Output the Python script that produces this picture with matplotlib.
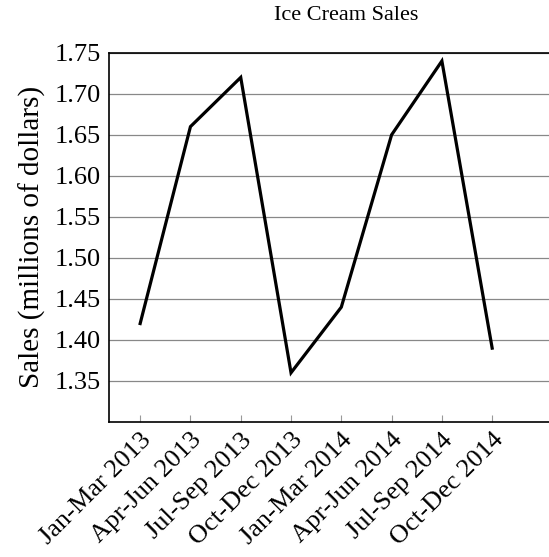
import numpy as np
import matplotlib
matplotlib.use("Agg")
import matplotlib.pyplot as plt

# data
quarters = ["Jan-Mar 2013", "Apr-Jun 2013", "Jul-Sep 2013", "Oct-Dec 2013",
            "Jan-Mar 2014", "Apr-Jun 2014", "Jul-Sep 2014", "Oct-Dec 2014"]
sales = [1.42, 1.66, 1.72, 1.36, 1.44, 1.65, 1.74, 1.39]
yticks = [1.35, 1.40, 1.45, 1.50, 1.55, 1.60, 1.65, 1.70, 1.75]

plt.rcParams["font.family"] = ["Liberation Serif", "DejaVu Serif"]

fig = plt.figure(figsize=(5.49, 5.57), dpi=100)
ax = fig.add_axes([0.1985, 0.2424, 0.8015, 0.6628])

x = np.arange(len(quarters))
ax.plot(x, sales, color="black", linewidth=2.3, solid_joinstyle="miter")

ax.set_xlim(-0.62, 8.13)
ax.set_ylim(1.30, 1.75)
ax.set_yticks(yticks)
ax.set_yticklabels(["%.2f" % v for v in yticks], fontsize=19)
ax.set_xticks(x)
ax.set_xticklabels(quarters, fontsize=19, rotation=45, ha="right",
                   rotation_mode="anchor")

ax.yaxis.grid(True, color="#888888", linewidth=0.9)
ax.set_axisbelow(True)
ax.tick_params(axis="x", direction="in", length=5, color="#999999", pad=5)
ax.tick_params(axis="y", length=0, pad=6)

ax.spines["right"].set_visible(False)
for s in ["left", "top", "bottom"]:
    ax.spines[s].set_linewidth(1.2)

ax.set_ylabel("Sales (millions of dollars)", fontsize=21, labelpad=6)
fig.text(346 / 549, 1 - 16 / 557, "Ice Cream Sales", fontsize=16,
         ha="center", va="center")

plt.savefig("out.png", dpi=100)
